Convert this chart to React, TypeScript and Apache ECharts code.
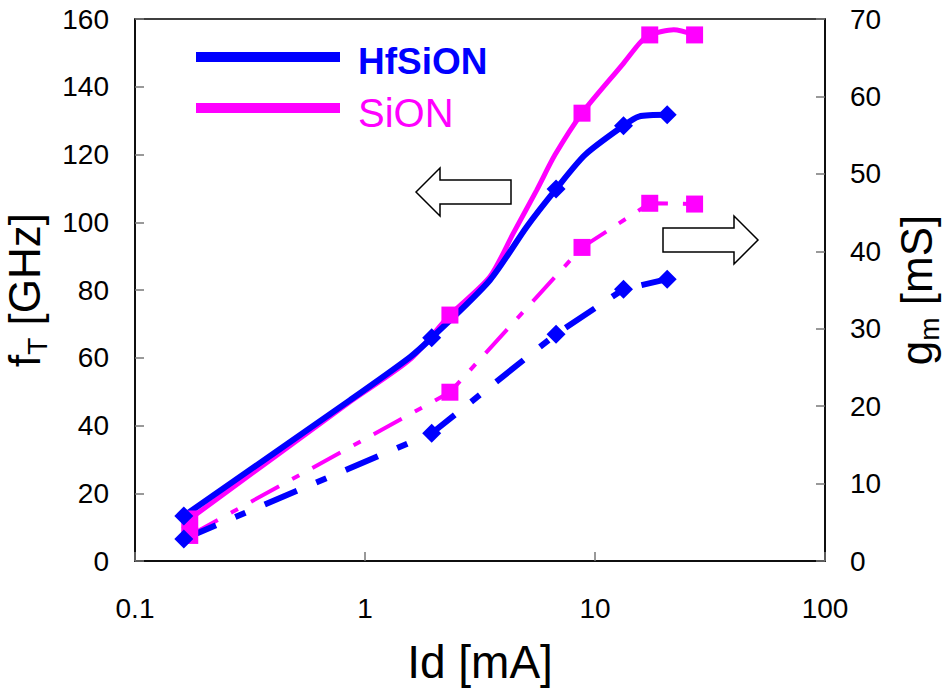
import React, { useEffect, useRef } from "react";
import * as echarts from "echarts";

// ---- data ----
const xMin = 0.1;
const xMax = 100;
const ftTicks = { min: 0, max: 160, interval: 20 };
const gmTicks = { min: 0, max: 70, interval: 10 };

// HfSiON fT (solid, diamonds)
const hfFtX = [0.163, 0.861, 1.57, 1.95, 3.49, 5.05, 6.77, 9.05, 13.3, 15.5, 20.6];
const hfFtY = [13.3, 47.5, 60.2, 65.9, 82.9, 98.7, 109.8, 119.9, 128.5, 131.2, 131.7];
const hfFtMarked = [0, 3, 6, 8, 10];

// SiON fT (solid, squares)
const sionFtX = [0.173, 0.861, 1.57, 2.34, 3.49, 4.41, 5.58, 6.7, 8.78, 13.3, 15.6, 17.3, 22, 27.1];
const sionFtY = [12.4, 47, 59.5, 72.6, 83.9, 96.7, 109.5, 119.9, 132.2, 146.9, 152.8, 155.3, 156.8, 155.3];
const sionFtMarked = [0, 3, 8, 11, 13];

// HfSiON gm (dash-dot, diamonds)
const hfGmX = [0.163, 1.95, 6.77, 13.3, 20.6];
const hfGmY = [2.84, 16.5, 29.3, 35.1, 36.4];

// SiON gm (dash-dot, squares)
const sionGmX = [0.173, 2.34, 8.78, 17.3, 27.1];
const sionGmY = [3.3, 21.8, 40.5, 46.2, 46.1];

const BLUE = "#0000FF";
const MAGENTA = "#FF00FF";
const FONT = "Liberation Sans, Arial, sans-serif";

function build(xs: number[], ys: number[], marked?: number[]) {
  return xs.map((x, i) =>
    !marked || marked.includes(i) ? { value: [x, ys[i]] } : { value: [x, ys[i]], symbol: "none" }
  );
}

export default function App() {
  const ref = useRef<HTMLDivElement>(null);

  useEffect(() => {
    document.body.style.margin = "0";
    const chart = echarts.init(ref.current!, null, { renderer: "svg" });
    const axisLabel = { color: "#000", fontSize: 28, fontFamily: FONT };
    const tick = { show: true, inside: true, length: 9, lineStyle: { color: "#777", width: 1.5 } };
    const nameRich = {
      a: { fontSize: 44, fontFamily: FONT, color: "#000", lineHeight: 54, verticalAlign: "middle" },
      b: { fontSize: 28, fontFamily: FONT, color: "#000", lineHeight: 28, verticalAlign: "bottom" },
    };
    chart.setOption({
      animation: false,
      backgroundColor: "#fff",
      grid: {
        left: 135,
        right: 120,
        top: 19,
        bottom: 131,
        containLabel: false,
        outerBoundsMode: "none",
        show: true,
        borderColor: "#000",
        borderWidth: 1.5,
        backgroundColor: "transparent",
      },
      xAxis: {
        type: "log",
        logBase: 10,
        min: xMin,
        max: xMax,
        name: "Id [mA]",
        nameLocation: "middle",
        nameGap: 78,
        nameTextStyle: { color: "#000", fontSize: 46, fontFamily: FONT },
        axisLine: { show: true, lineStyle: { color: "#000", width: 1.5 } },
        axisTick: tick,
        axisLabel: { ...axisLabel, margin: 33, formatter: (v: number) => String(v) },
        splitLine: { show: false },
        minorTick: { show: false },
      },
      yAxis: [
        {
          type: "value",
          position: "left",
          min: ftTicks.min,
          max: ftTicks.max,
          interval: ftTicks.interval,
          name: "{a|f}{b|T}{a| [GHz]}",
          nameLocation: "middle",
          nameRotate: 90,
          nameGap: 80,
          nameTextStyle: { rich: nameRich },
          axisLine: { show: true, lineStyle: { color: "#000", width: 1.5 } },
          axisTick: tick,
          axisLabel: { ...axisLabel, margin: 26 },
          splitLine: { show: false },
        },
        {
          type: "value",
          position: "right",
          min: gmTicks.min,
          max: gmTicks.max,
          interval: gmTicks.interval,
          name: "{a|g}{b|m}{a| [mS]}",
          nameLocation: "middle",
          nameRotate: 90,
          nameGap: 64,
          nameTextStyle: { rich: nameRich },
          axisLine: { show: true, lineStyle: { color: "#000", width: 1.5 } },
          axisTick: tick,
          axisLabel: { ...axisLabel, margin: 25 },
          splitLine: { show: false },
        },
      ],
      series: [
        {
          name: "SiON gm",
          type: "line",
          yAxisIndex: 1,
          data: build(sionGmX, sionGmY),
          symbol: "rect",
          symbolSize: 17,
          itemStyle: { color: MAGENTA },
          lineStyle: { color: MAGENTA, width: 4, type: [32, 15, 8, 15] },
        },
        {
          name: "HfSiON gm",
          type: "line",
          yAxisIndex: 1,
          data: build(hfGmX, hfGmY),
          symbol: "diamond",
          symbolSize: 19,
          itemStyle: { color: BLUE },
          lineStyle: { color: BLUE, width: 6, type: [35, 21, 11, 21] },
        },
        {
          name: "SiON fT",
          type: "line",
          yAxisIndex: 0,
          data: build(sionFtX, sionFtY, sionFtMarked),
          symbol: "rect",
          symbolSize: 17,
          smooth: 0.25,
          itemStyle: { color: MAGENTA },
          lineStyle: { color: MAGENTA, width: 5 },
        },
        {
          name: "HfSiON fT",
          type: "line",
          yAxisIndex: 0,
          data: build(hfFtX, hfFtY, hfFtMarked),
          symbol: "diamond",
          symbolSize: 19,
          smooth: 0.25,
          itemStyle: { color: BLUE },
          lineStyle: { color: BLUE, width: 6 },
        },
      ],
      graphic: [
        { type: "line", shape: { x1: 196, y1: 57, x2: 340, y2: 57 }, style: { stroke: BLUE, lineWidth: 10 } },
        {
          type: "text",
          x: 358,
          y: 61,
          style: { text: "HfSiON", fill: BLUE, fontSize: 37, fontWeight: "bold", fontFamily: FONT, verticalAlign: "middle" },
        },
        { type: "line", shape: { x1: 196, y1: 108, x2: 340, y2: 108 }, style: { stroke: MAGENTA, lineWidth: 10 } },
        {
          type: "text",
          x: 358,
          y: 113,
          style: { text: "SiON", fill: MAGENTA, fontSize: 40, fontFamily: FONT, verticalAlign: "middle" },
        },
        {
          type: "polygon",
          shape: {
            points: [
              [416, 192],
              [440, 168],
              [440, 180],
              [511, 180],
              [511, 204],
              [440, 204],
              [440, 216],
            ],
          },
          style: { fill: "#fff", stroke: "#000", lineWidth: 1.5 },
        },
        {
          type: "polygon",
          shape: {
            points: [
              [663, 228],
              [734, 228],
              [734, 216],
              [758, 240],
              [734, 264],
              [734, 252],
              [663, 252],
            ],
          },
          style: { fill: "#fff", stroke: "#000", lineWidth: 1.5 },
        },
      ],
    });
    return () => chart.dispose();
  }, []);

  return <div ref={ref} style={{ position: "absolute", left: 0, top: 0, width: 945, height: 692 }} />;
}
